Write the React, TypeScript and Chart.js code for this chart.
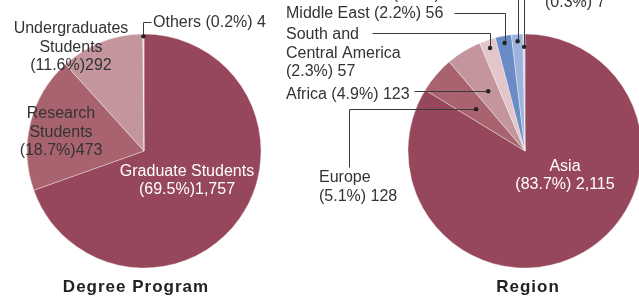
import React, { useEffect, useRef } from 'react';
import { Chart, registerables } from 'chart.js';
Chart.register(...registerables);

// ---------- data ----------
const degreeCategories = ['Graduate Students', 'Research Students', 'Undergraduates Students', 'Others'];
const degreeValues = [1757, 473, 292, 4];
const degreePercents = [69.5, 18.7, 11.6, 0.2];
const degreeColors = ['#97475C', '#A8636F', '#C4959C', '#EAD8DB'];

const regionCategories = ['Asia', 'Europe', 'Africa', 'South and Central America', 'Middle East', 'North America', 'Oceania'];
const regionValues = [2115, 128, 123, 57, 56, 40, 7];
const regionPercents = [83.7, 5.1, 4.9, 2.3, 2.2, 1.6, 0.3];
const regionColors = ['#97475C', '#A8636F', '#C4959C', '#E3C6C9', '#6A8BC5', '#9DB3DD', '#C6D5EE'];

const chartTitles = ['Degree Program', 'Region'];

type Seg = ['h' | 'v', number];
type Fmt = (n: string, p: string, v: string) => string[];
interface LabelSpec {
  index: number;
  x: number;
  y: number;
  align: CanvasTextAlign;
  lh: number;
  color: string;
  fmt: Fmt;
  leader?: { frac: number; path: Seg[] };
}

const TXT = '#333333';
const WHITE = '#ffffff';
const nameThenPctTight: Fmt = (n, p, v) => [n, `(${p}%)${v}`];
const wordsThenPctTight: Fmt = (n, p, v) => [...n.split(' '), `(${p}%)${v}`];
const oneLine: Fmt = (n, p, v) => [`${n} (${p}%) ${v}`];
const nameThenPct: Fmt = (n, p, v) => [n, `(${p}%) ${v}`];
const scaSplit: Fmt = (n, p, v) => [...n.replace(' Central', '\nCentral').split('\n'), `(${p}%) ${v}`];

const degreeLabels: LabelSpec[] = [
  { index: 0, x: 187, y: 176, align: 'center', lh: 18, color: WHITE, fmt: nameThenPctTight },
  { index: 1, x: 61, y: 118, align: 'center', lh: 18.5, color: TXT, fmt: wordsThenPctTight },
  { index: 2, x: 71, y: 33, align: 'center', lh: 18.5, color: TXT, fmt: wordsThenPctTight },
  { index: 3, x: 153, y: 27, align: 'left', lh: 18, color: TXT, fmt: oneLine, leader: { frac: 0.98, path: [['v', 22], ['h', 151]] } },
];

const regionLabels: LabelSpec[] = [
  { index: 0, x: 565, y: 171, align: 'center', lh: 18, color: WHITE, fmt: nameThenPct },
  { index: 1, x: 319, y: 182, align: 'left', lh: 18.5, color: TXT, fmt: nameThenPct, leader: { frac: 0.55, path: [['h', 349], ['v', 167]] } },
  { index: 2, x: 286, y: 99, align: 'left', lh: 18, color: TXT, fmt: oneLine, leader: { frac: 0.6, path: [['h', 414]] } },
  { index: 3, x: 286, y: 39, align: 'left', lh: 18.5, color: TXT, fmt: scaSplit, leader: { frac: 0.93, path: [['v', 33], ['h', 372]] } },
  { index: 4, x: 286, y: 18, align: 'left', lh: 18, color: TXT, fmt: oneLine, leader: { frac: 0.94, path: [['v', 13], ['h', 454]] } },
  { index: 5, x: 286, y: -1, align: 'left', lh: 18, color: TXT, fmt: oneLine, leader: { frac: 0.94, path: [['v', -6], ['h', 468]] } },
  { index: 6, x: 545, y: -12, align: 'left', lh: 18.5, color: TXT, fmt: nameThenPct, leader: { frac: 0.89, path: [['v', -18], ['h', 540]] } },
];

const FONT = '"Liberation Sans", Arial, Helvetica, sans-serif';

function makeLabelPlugin(
  ox: number,
  names: string[],
  values: number[],
  pcts: number[],
  specs: LabelSpec[],
  title: string,
  titleX: number
) {
  return {
    id: 'customLabels',
    afterDraw(chart: any) {
      const ctx: CanvasRenderingContext2D = chart.ctx;
      const meta = chart.getDatasetMeta(0);
      ctx.save();
      // leaders
      specs.forEach((s) => {
        if (!s.leader) return;
        const arc = meta.data[s.index];
        const mid = (arc.startAngle + arc.endAngle) / 2;
        const r = arc.outerRadius * s.leader.frac;
        const dx = arc.x + Math.cos(mid) * r;
        const dy = arc.y + Math.sin(mid) * r;
        ctx.strokeStyle = '#3a3a3a';
        ctx.lineWidth = 1;
        ctx.beginPath();
        let cx = Math.round(dx) + 0.5;
        let cy = Math.round(dy) + 0.5;
        ctx.moveTo(cx, cy);
        s.leader.path.forEach(([d, val]) => {
          if (d === 'h') cx = val - ox + 0.5;
          else cy = val + 0.5;
          ctx.lineTo(cx, cy);
        });
        ctx.stroke();
        ctx.fillStyle = '#222';
        ctx.beginPath();
        ctx.arc(dx, dy, 2.2, 0, Math.PI * 2);
        ctx.fill();
      });
      // texts
      ctx.font = `16px ${FONT}`;
      ctx.textBaseline = 'alphabetic';
      specs.forEach((s) => {
        const lines = s.fmt(names[s.index], pcts[s.index].toFixed(1), values[s.index].toLocaleString('en-US'));
        ctx.fillStyle = s.color;
        ctx.textAlign = s.align;
        lines.forEach((ln, i) => {
          ctx.fillText(ln, s.x - ox, s.y + i * s.lh);
        });
      });
      // title
      ctx.font = `bold 17px ${FONT}`;
      (ctx as any).letterSpacing = '1px';
      ctx.fillStyle = '#222';
      ctx.textAlign = 'center';
      ctx.fillText(title, titleX - ox, 292);
      ctx.restore();
    },
  };
}

function PieCanvas(props: {
  left: number;
  width: number;
  centerX: number;
  names: string[];
  values: number[];
  pcts: number[];
  colors: string[];
  specs: LabelSpec[];
  title: string;
  titleX: number;
}) {
  const ref = useRef<HTMLCanvasElement | null>(null);
  useEffect(() => {
    if (!ref.current) return;
    const R = 117;
    const cy = 151;
    const localCx = props.centerX - props.left;
    const padLeft = localCx - R;
    const padRight = props.width - padLeft - 2 * R;
    const padTop = cy - R;
    const padBottom = 297 - padTop - 2 * R;
    const chart = new Chart(ref.current, {
      type: 'pie',
      data: {
        labels: props.names,
        datasets: [
          {
            data: props.values,
            backgroundColor: props.colors,
            borderColor: 'rgba(255,255,255,0.45)',
            borderWidth: 0.8,
            radius: R,
          } as any,
        ],
      },
      options: {
        animation: false,
        responsive: false,
        devicePixelRatio: 1,
        layout: { padding: { left: padLeft, right: padRight, top: padTop, bottom: padBottom } },
        plugins: { legend: { display: false }, tooltip: { enabled: false } },
      },
      plugins: [makeLabelPlugin(props.left, props.names, props.values, props.pcts, props.specs, props.title, props.titleX)],
    });
    return () => chart.destroy();
  }, []);
  return (
    <canvas
      ref={ref}
      width={props.width}
      height={297}
      style={{ position: 'absolute', left: props.left, top: 0, width: props.width, height: 297 }}
    />
  );
}

export default function App() {
  return (
    <div
      style={{
        position: 'absolute',
        left: 0,
        top: 0,
        width: 639,
        height: 297,
        overflow: 'hidden',
        background: '#ffffff',
      }}
    >
      <PieCanvas
        left={0}
        width={280}
        centerX={144}
        names={degreeCategories}
        values={degreeValues}
        pcts={degreePercents}
        colors={degreeColors}
        specs={degreeLabels}
        title={chartTitles[0]}
        titleX={136}
      />
      <PieCanvas
        left={280}
        width={370}
        centerX={525}
        names={regionCategories}
        values={regionValues}
        pcts={regionPercents}
        colors={regionColors}
        specs={regionLabels}
        title={chartTitles[1]}
        titleX={528}
      />
    </div>
  );
}
